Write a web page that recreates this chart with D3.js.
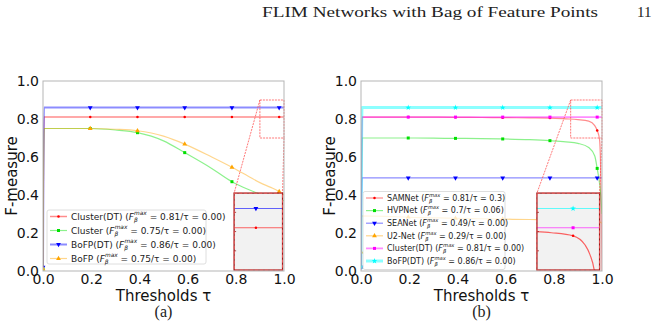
<!DOCTYPE html>
<html>
<head>
<meta charset="utf-8">
<script src="https://cdn.jsdelivr.net/npm/d3@7"></script>
<style>
  body { margin: 0; background: #fff; }
  svg { display: block; }
</style>
</head>
<body>
<svg id="chart" width="669" height="326"></svg>
<script>
// thresholds sampled from the curves (0..1)
const taus = [0, 0.004, 0.1, 0.196, 0.3, 0.392, 0.5, 0.588, 0.7, 0.784, 0.85, 0.9, 0.945, 0.97, 0.98, 0.99, 0.995, 1.0];
// every 50th threshold of 255 carries a marker
const markTaus = [0, 0.196, 0.392, 0.588, 0.784, 0.98];
const insetMarkTau = 0.945;
const xTicks = [0, 0.2, 0.4, 0.6, 0.8, 1.0];
const yTicks = [0, 0.2, 0.4, 0.6, 0.8, 1.0];

// panel (a)
const aClusterDT = [0.01, 0.81, 0.81, 0.81, 0.81, 0.81, 0.81, 0.81, 0.81, 0.81, 0.81, 0.81, 0.81, 0.81, 0.81, 0.81, 0.81, 0.81];
const aCluster   = [0.01, 0.75, 0.75, 0.75, 0.742, 0.728, 0.685, 0.623, 0.54, 0.47, 0.43, 0.405, 0.388, 0.38, 0.377, 0.373, 0.371, 0.37];
const aBoFPDT    = [0.02, 0.86, 0.86, 0.86, 0.86, 0.86, 0.86, 0.86, 0.86, 0.86, 0.86, 0.86, 0.86, 0.86, 0.86, 0.86, 0.86, 0.86];
const aBoFP      = [0.01, 0.75, 0.75, 0.75, 0.746, 0.738, 0.71, 0.668, 0.6, 0.546, 0.5, 0.465, 0.44, 0.425, 0.418, 0.408, 0.404, 0.40];

// panel (b)
const bSAMNet    = [0.02, 0.81, 0.81, 0.81, 0.81, 0.809, 0.808, 0.807, 0.806, 0.805, 0.801, 0.797, 0.789, 0.765, 0.74, 0.69, 0.5, 0.0];
const bHVPNet    = [0.02, 0.70, 0.70, 0.70, 0.699, 0.698, 0.697, 0.695, 0.691, 0.686, 0.68, 0.672, 0.65, 0.605, 0.54, 0.46, 0.40, 0.30];
const bSEANet    = [0.02, 0.49, 0.49, 0.49, 0.49, 0.49, 0.49, 0.49, 0.49, 0.49, 0.49, 0.49, 0.49, 0.49, 0.49, 0.49, 0.49, 0.49];
const bU2Net     = [0.10, 0.29, 0.288, 0.283, 0.28, 0.277, 0.275, 0.273, 0.271, 0.27, 0.268, 0.266, 0.264, 0.262, 0.26, 0.258, 0.256, 0.25];
const bClusterDT = [0.02, 0.81, 0.81, 0.81, 0.81, 0.81, 0.81, 0.81, 0.81, 0.81, 0.81, 0.81, 0.81, 0.81, 0.81, 0.81, 0.81, 0.81];
const bBoFPDT    = [0.02, 0.86, 0.86, 0.86, 0.86, 0.86, 0.86, 0.86, 0.86, 0.86, 0.86, 0.86, 0.86, 0.86, 0.86, 0.86, 0.86, 0.86];

const panels = [
  {
    id: 'a', caption: '(a)', left: 43, right: 284, legendFont: 9,
    legend: { x: 47, y: 210, w: 159, h: 54, row: 14 },
    zoomBox: [0.9, 1.0, 0.7, 0.9],
    insetBox: [0.793, 0.994, 0.005, 0.41],
    series: [
      { name: 'Cluster(DT)', fmax: '0.81', tau: '0.00', values: aClusterDT, color: '#ff0000', width: 1.5, marker: 'dot' },
      { name: 'Cluster', fmax: '0.75', tau: '0.00', values: aCluster, color: '#00e000', width: 1.2, marker: 'square' },
      { name: 'BoFP(DT)', fmax: '0.86', tau: '0.00', values: aBoFPDT, color: '#0000ff', width: 2, marker: 'tridown' },
      { name: 'BoFP', fmax: '0.75', tau: '0.00', values: aBoFP, color: '#ffa500', width: 1.2, marker: 'triup' }
    ]
  },
  {
    id: 'b', caption: '(b)', left: 361, right: 602, legendFont: 8,
    legend: { x: 363, y: 191.5, w: 142, h: 78, row: 12.6 },
    zoomBox: [0.87, 1.0, 0.7, 0.9],
    insetBox: [0.73, 0.99, 0.005, 0.41],
    series: [
      { name: 'SAMNet', fmax: '0.81', tau: '0.3', values: bSAMNet, color: '#ff0000', width: 1.2, marker: 'dot' },
      { name: 'HVPNet', fmax: '0.7', tau: '0.06', values: bHVPNet, color: '#00e000', width: 1.2, marker: 'square' },
      { name: 'SEANet', fmax: '0.49', tau: '0.00', values: bSEANet, color: '#0000ff', width: 1.2, marker: 'tridown' },
      { name: 'U2-Net', fmax: '0.29', tau: '0.00', values: bU2Net, color: '#ffa500', width: 1.2, marker: 'triup' },
      { name: 'Cluster(DT)', fmax: '0.81', tau: '0.00', values: bClusterDT, color: '#ff00ff', width: 1.8, marker: 'square' },
      { name: 'BoFP(DT)', fmax: '0.86', tau: '0.00', values: bBoFPDT, color: '#00ffff', width: 3, marker: 'star' }
    ]
  }
];

const svg = d3.select('#chart');
const plotTop = 81, plotBottom = 271;
const sansFont = 'DejaVu Sans, sans-serif';
const serifFont = 'Liberation Serif, DejaVu Serif, serif';

// page header
svg.append('text').attr('x', 262).attr('y', 17)
  .attr('font-family', serifFont).attr('font-size', 15).attr('fill', '#222')
  .attr('textLength', 336).attr('lengthAdjust', 'spacingAndGlyphs')
  .text('FLIM Networks with Bag of Feature Points');
svg.append('text').attr('x', 637).attr('y', 17)
  .attr('font-family', serifFont).attr('font-size', 15).attr('fill', '#222')
  .text('11');

function markerPath(type) {
  if (type === 'dot') return d3.symbol(d3.symbolCircle, 5)();
  if (type === 'square') return d3.symbol(d3.symbolSquare, 9)();
  if (type === 'star') return d3.symbol(d3.symbolStar, 10)();
  return d3.symbol(d3.symbolTriangle, 10)();
}

function drawMarker(g, type, x, y, color) {
  g.append('path')
    .attr('d', markerPath(type))
    .attr('transform', `translate(${x},${y})${type === 'tridown' ? ' rotate(180)' : ''}`)
    .attr('fill', color);
}

panels.forEach(p => {
  const x = d3.scaleLinear().domain([0, 1]).range([p.left, p.right]);
  const y = d3.scaleLinear().domain([0, 1]).range([plotBottom, plotTop]);
  const g = svg.append('g').attr('class', 'panel-' + p.id);

  const clipId = 'clip-' + p.id;
  svg.append('clipPath').attr('id', clipId)
    .append('rect').attr('x', p.left).attr('y', plotTop)
    .attr('width', p.right - p.left).attr('height', plotBottom - plotTop);

  const line = d3.line()
    .x((d, i) => x(taus[i]))
    .y(d => y(d))
    .curve(d3.curveMonotoneX);

  const plot = g.append('g').attr('clip-path', `url(#${clipId})`);
  p.series.forEach(s => {
    plot.append('path')
      .attr('d', line(s.values))
      .attr('fill', 'none')
      .attr('stroke', s.color)
      .attr('stroke-opacity', 0.45)
      .attr('stroke-width', s.width);
    markTaus.forEach(t => {
      const i = taus.indexOf(t);
      drawMarker(plot, s.marker, x(t), y(s.values[i]), s.color);
    });
  });

  // zoom rectangle and connectors
  const [zx0, zx1, zy0, zy1] = p.zoomBox;
  const [ix0, ix1, iy0, iy1] = p.insetBox;
  g.append('rect')
    .attr('x', x(zx0)).attr('y', y(zy1))
    .attr('width', x(zx1) - x(zx0)).attr('height', y(zy0) - y(zy1))
    .attr('fill', 'none').attr('stroke', '#ff5555')
    .attr('stroke-width', 0.8).attr('stroke-dasharray', '2,1');
  g.append('line')
    .attr('x1', x(zx0)).attr('y1', y(zy1)).attr('x2', x(ix0)).attr('y2', y(iy1))
    .attr('stroke', '#ff5555').attr('stroke-width', 0.8).attr('stroke-dasharray', '2,1');
  g.append('line')
    .attr('x1', x(zx1)).attr('y1', y(zy0)).attr('x2', x(ix1)).attr('y2', y(iy1))
    .attr('stroke', '#ff5555').attr('stroke-width', 0.8).attr('stroke-dasharray', '2,1');

  // inset
  const ix = d3.scaleLinear().domain([zx0, zx1]).range([x(ix0), x(ix1)]);
  const iy = d3.scaleLinear().domain([zy0, zy1]).range([y(iy0), y(iy1)]);
  const inset = g.append('g');
  const insetClip = 'iclip-' + p.id;
  svg.append('clipPath').attr('id', insetClip)
    .append('rect').attr('x', x(ix0)).attr('y', y(iy1))
    .attr('width', x(ix1) - x(ix0)).attr('height', y(iy0) - y(iy1));
  inset.append('rect')
    .attr('x', x(ix0)).attr('y', y(iy1))
    .attr('width', x(ix1) - x(ix0)).attr('height', y(iy0) - y(iy1))
    .attr('fill', '#f2f2f2');
  const iline = d3.line()
    .x((d, i) => ix(taus[i]))
    .y(d => iy(d))
    .curve(d3.curveMonotoneX);
  const iplot = inset.append('g').attr('clip-path', `url(#${insetClip})`);
  p.series.forEach(s => {
    iplot.append('path')
      .attr('d', iline(s.values))
      .attr('fill', 'none')
      .attr('stroke', s.color)
      .attr('stroke-opacity', 0.6)
      .attr('stroke-width', 1.2);
    const i = taus.indexOf(insetMarkTau);
    drawMarker(iplot, s.marker, ix(insetMarkTau), iy(s.values[i]), s.color);
  });
  // small inset ticks
  [0.75, 0.8, 0.85].forEach(v => {
    inset.append('line').attr('x1', x(ix0)).attr('x2', x(ix0) + 2)
      .attr('y1', iy(v)).attr('y2', iy(v)).attr('stroke', '#9b1c1c').attr('stroke-width', 0.8);
  });
  inset.append('rect')
    .attr('x', x(ix0)).attr('y', y(iy1))
    .attr('width', x(ix1) - x(ix0)).attr('height', y(iy0) - y(iy1))
    .attr('fill', 'none').attr('stroke', '#9b1c1c').attr('stroke-width', 1.3);
  inset.append('rect')
    .attr('x', x(ix0)).attr('y', y(iy1))
    .attr('width', x(ix1) - x(ix0)).attr('height', y(iy0) - y(iy1))
    .attr('fill', 'none').attr('stroke', '#ff6666').attr('stroke-width', 0.8)
    .attr('stroke-dasharray', '3,2');

  // frame
  g.append('rect')
    .attr('x', p.left).attr('y', plotTop)
    .attr('width', p.right - p.left).attr('height', plotBottom - plotTop)
    .attr('fill', 'none').attr('stroke', '#b5b5b5').attr('stroke-width', 1);

  // axes
  const xAxis = g.append('g').attr('transform', `translate(0,${plotBottom})`)
    .call(d3.axisBottom(x).tickValues(xTicks).tickFormat(d3.format('.1f')).tickSize(0).tickPadding(3));
  const yAxis = g.append('g').attr('transform', `translate(${p.left},0)`)
    .call(d3.axisLeft(y).tickValues(yTicks).tickFormat(d3.format('.1f')).tickSize(0).tickPadding(4));
  [xAxis, yAxis].forEach(a => {
    a.select('.domain').remove();
    a.selectAll('text').attr('font-family', sansFont).attr('font-size', 14).attr('fill', '#111');
  });

  // axis titles and caption
  g.append('text')
    .attr('transform', `translate(${p.left - 26},${(plotTop + plotBottom) / 2}) rotate(-90)`)
    .attr('text-anchor', 'middle')
    .attr('font-family', sansFont).attr('font-size', 15).attr('fill', '#111')
    .text('F-measure');
  g.append('text')
    .attr('x', (p.left + p.right) / 2).attr('y', 300.5)
    .attr('text-anchor', 'middle')
    .attr('font-family', sansFont).attr('font-size', 15).attr('fill', '#111')
    .text('Thresholds τ');
  g.append('text')
    .attr('x', (p.left + p.right) / 2).attr('y', 317)
    .attr('text-anchor', 'middle')
    .attr('font-family', serifFont).attr('font-size', 16).attr('fill', '#222')
    .text(p.caption);

  // legend
  const L = p.legend;
  const lg = g.append('g');
  lg.append('rect')
    .attr('x', L.x).attr('y', L.y).attr('width', L.w).attr('height', L.h)
    .attr('rx', 2).attr('fill', '#fff').attr('fill-opacity', 0.75)
    .attr('stroke', '#d6d6d6').attr('stroke-width', 0.8);
  const fs = p.legendFont;
  p.series.forEach((s, i) => {
    const cy = L.y + 6.5 + i * L.row;
    lg.append('line')
      .attr('x1', L.x + 3).attr('x2', L.x + 20).attr('y1', cy).attr('y2', cy)
      .attr('stroke', s.color).attr('stroke-opacity', 0.45).attr('stroke-width', s.width);
    drawMarker(lg, s.marker, L.x + 11.5, cy, s.color);
    const t = lg.append('text')
      .attr('x', L.x + 24).attr('y', cy + fs * 0.35)
      .attr('font-family', sansFont).attr('font-size', fs).attr('fill', '#222');
    t.append('tspan').text(s.name + ' (');
    t.append('tspan').attr('font-style', 'italic').text('F');
    t.append('tspan').attr('font-style', 'italic').attr('font-size', fs * 0.65).attr('dy', 2).text('β');
    t.append('tspan').attr('font-style', 'italic').attr('font-size', fs * 0.65)
      .attr('dx', -fs * 0.4).attr('dy', -fs * 0.75).text('max');
    t.append('tspan').attr('dy', fs * 0.75 - 2).text(` = ${s.fmax}/τ = ${s.tau})`);
  });
});
</script>
</body>
</html>
